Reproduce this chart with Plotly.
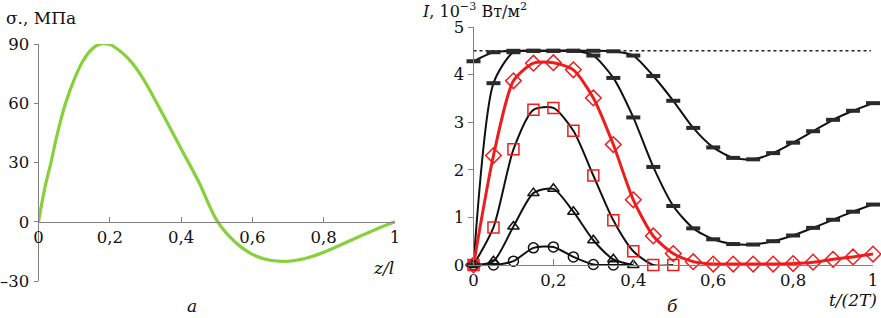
import plotly.graph_objects as go

# ---------- panel a: sigma(z) ----------
z_rel = [0, 0.01, 0.02, 0.035, 0.05, 0.075, 0.1, 0.125, 0.15, 0.175, 0.2, 0.225, 0.25, 0.275,
         0.3, 0.35, 0.4, 0.45, 0.5, 0.55, 0.6, 0.65, 0.7, 0.75, 0.8, 0.85, 0.9, 0.95, 1.0]
sigma = [0, 10, 19, 30, 42.5, 59.5, 72, 81.5, 87.5, 90, 89.7, 87, 83, 77.5,
         70.5, 54, 37, 20, 0.7, -10, -16.5, -19.5, -20, -18.5, -15.5, -11.5, -7.5, -3.5, 0]

# ---------- panel b: I(t) ----------
t_grid = [0, 0.05, 0.1, 0.15, 0.2, 0.25, 0.3, 0.35, 0.4, 0.45, 0.5,
          0.55, 0.6, 0.65, 0.7, 0.75, 0.8, 0.85, 0.9, 0.95, 1.0]
I_circle = [0, 0.0, 0.08, 0.36, 0.38, 0.17, 0.01, 0.0, 0.0]
I_triangle = [0, 0.08, 0.81, 1.51, 1.6, 1.12, 0.52, 0.12, 0.0]
I_square = [0, 0.79, 2.43, 3.26, 3.3, 2.82, 1.88, 0.94, 0.29, 0.0, 0.0]
I_diamond = [0, 2.3, 3.87, 4.24, 4.25, 4.1, 3.51, 2.53, 1.37, 0.61, 0.24,
             0.07, 0.02, 0.02, 0.02, 0.02, 0.03, 0.06, 0.12, 0.17, 0.23]
I_dash1 = [0, 3.82, 4.47, 4.5, 4.5, 4.5, 4.4, 3.93, 3.1, 2.06, 1.24,
           0.77, 0.54, 0.44, 0.43, 0.5, 0.62, 0.78, 0.95, 1.12, 1.27]
I_dash2 = [4.28, 4.47, 4.5, 4.5, 4.5, 4.5, 4.5, 4.49, 4.4, 3.97, 3.45,
           2.88, 2.47, 2.25, 2.22, 2.35, 2.57, 2.81, 3.05, 3.24, 3.4]
I_limit = 4.5

ticks_a_x = [0, 0.2, 0.4, 0.6, 0.8, 1]
ticks_a_x_text = ["0", "0,2", "0,4", "0,6", "0,8", "1"]
ticks_a_y = [-30, 0, 30, 60, 90]
ticks_a_y_text = ["\u201330", "0", "30", "60", "90"]
ticks_b_y = [0, 1, 2, 3, 4, 5]
ticks_b_y_text = ["0", "1", "2", "3", "4", "5"]

W, H = 881, 318
FONT = "DejaVu Serif"
FS = 16.5
AX = "#808080"


def px(x):
    return x / W


def py(y):
    return 1 - y / H


fig = go.Figure()

fig.add_trace(go.Scatter(x=z_rel, y=sigma, mode="lines", xaxis="x", yaxis="y",
                         line=dict(color="#86d13a", width=3.2, shape="spline", smoothing=0.8),
                         cliponaxis=False))

blk = "#111111"
red = "#ee1c1c"


def curve(x, y, color, width):
    fig.add_trace(go.Scatter(x=x, y=y, mode="lines", xaxis="x2", yaxis="y2",
                             line=dict(color=color, width=width, shape="spline", smoothing=0.7),
                             cliponaxis=False))


def marks(x, y, symbol, color, size, lw):
    fig.add_trace(go.Scatter(x=x, y=y, mode="markers", xaxis="x2", yaxis="y2",
                             marker=dict(symbol=symbol, size=size, color=color,
                                         line=dict(color=color, width=lw)),
                             cliponaxis=False))


# dotted limit line
fig.add_trace(go.Scatter(x=[0, 0.995], y=[I_limit, I_limit], mode="lines", xaxis="x2", yaxis="y2",
                         line=dict(color="#222222", width=1.5, dash="dot"), cliponaxis=False))

curve(t_grid[:len(I_circle)], I_circle, blk, 2)
curve(t_grid[:len(I_triangle)], I_triangle, blk, 2)
curve(t_grid[:len(I_square)], I_square, blk, 2)
curve(t_grid, I_dash1, blk, 2)
curve(t_grid, I_dash2, blk, 2)
curve(t_grid, I_diamond, red, 3)

marks(t_grid[:len(I_circle) - 1], I_circle[:-1], "circle-open", blk, 10, 1.5)
marks(t_grid[:len(I_triangle)], I_triangle, "triangle-up-open", blk, 10, 1.5)
marks(t_grid[:len(I_square)], I_square, "square-open", red, 11, 1.5)
marks(t_grid, I_diamond, "diamond-open", red, 12, 1.5)
for arr in (I_dash1, I_dash2):
    fig.add_trace(go.Scatter(x=t_grid, y=arr, mode="markers", xaxis="x2", yaxis="y2",
                             marker=dict(symbol="line-ew", size=10, color="#2a2a2a",
                                         line=dict(color="#2a2a2a", width=4)),
                             cliponaxis=False))

tickfont = dict(family=FONT, size=FS, color="#111111")
common = dict(showline=True, linecolor=AX, linewidth=1, tickcolor=AX,
              showgrid=False, zeroline=False, tickfont=tickfont, automargin=False)

fig.update_layout(
    template="none",
    width=W, height=H,
    margin=dict(l=0, r=0, t=0, b=0, pad=0),
    paper_bgcolor="white", plot_bgcolor="white",
    showlegend=False,
    font=dict(family=FONT, size=FS, color="#111111"),
    xaxis=dict(domain=[px(38.5), px(395)], range=[0, 1], anchor="free", position=py(222),
               tickvals=ticks_a_x, ticktext=ticks_a_x_text, ticks="inside", ticklen=5, **common),
    yaxis=dict(domain=[py(281), py(44)], range=[-30, 90], anchor="x",
               tickvals=ticks_a_y, ticktext=ticks_a_y_text, ticks="outside", ticklen=4,
               ticklabelstandoff=1, **common),
    xaxis2=dict(domain=[px(473.5), px(873)], range=[0, 1], anchor="y2",
                tickvals=ticks_a_x, ticktext=ticks_a_x_text, ticks="inside", ticklen=6, **common),
    yaxis2=dict(domain=[py(265), py(27)], range=[0, 5], anchor="x2",
                tickvals=ticks_b_y, ticktext=ticks_b_y_text, ticks="outside", ticklen=5, **common),
)


def note(text, x, y, xanchor="left", italic=False, size=17):
    fig.add_annotation(text=text, x=px(x), y=py(y), xref="paper", yref="paper",
                       xanchor=xanchor, yanchor="middle", showarrow=False,
                       font=dict(family=FONT, size=size, color="#111111",
                                 style="italic" if italic else "normal"))


note("\u03c3., МПа", 4, 18)
note("z/l", 396, 268, xanchor="right", italic=True)
note("a", 192, 306, xanchor="center", italic=True)
note("<i>I</i>, 10<sup>\u22123</sup> Вт/м<sup>2</sup>", 420, 11, size=16)
note("t/(2<i>T</i>)", 879, 300, xanchor="right", italic=True)
note("б", 672, 306, xanchor="center", italic=True)

fig.write_html("out.html", config={"displayModeBar": False, "staticPlot": True},
               post_script="document.body.style.margin='0';document.body.style.padding='0';")
